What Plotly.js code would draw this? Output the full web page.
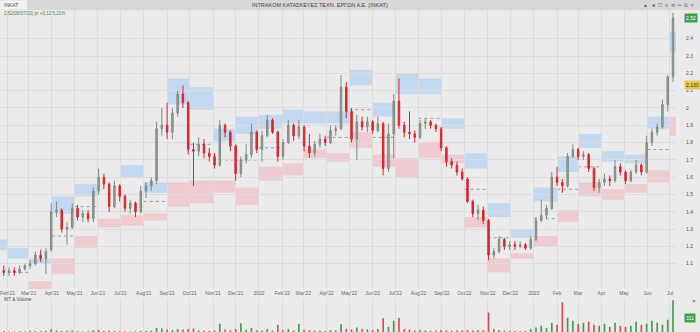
<!DOCTYPE html>
<html><head><meta charset="utf-8">
<script src="https://cdn.plot.ly/plotly-3.0.1.min.js"></script>
<style>html,body{margin:0;padding:0;background:#ebebeb;}#chart{width:700px;height:332px;}</style>
</head><body><div id="chart"></div>
<script>
// Weekly candles (mid-week dates)
const weeks = [
"2021-01-27","2021-02-03","2021-02-10","2021-02-17","2021-02-24","2021-03-03","2021-03-10","2021-03-17","2021-03-24","2021-03-31",
"2021-04-07","2021-04-14","2021-04-21","2021-04-28","2021-05-05","2021-05-12","2021-05-19","2021-05-26","2021-06-02","2021-06-09",
"2021-06-16","2021-06-23","2021-06-30","2021-07-07","2021-07-14","2021-07-21","2021-07-28","2021-08-04","2021-08-11","2021-08-18",
"2021-08-25","2021-09-01","2021-09-08","2021-09-15","2021-09-22","2021-09-29","2021-10-06","2021-10-13","2021-10-20","2021-10-27",
"2021-11-03","2021-11-10","2021-11-17","2021-11-24","2021-12-01","2021-12-08","2021-12-15","2021-12-22","2021-12-29","2022-01-05",
"2022-01-12","2022-01-19","2022-01-26","2022-02-02","2022-02-09","2022-02-16","2022-02-23","2022-03-02","2022-03-09","2022-03-16",
"2022-03-23","2022-03-30","2022-04-06","2022-04-13","2022-04-20","2022-04-27","2022-05-04","2022-05-11","2022-05-18","2022-05-25",
"2022-06-01","2022-06-08","2022-06-15","2022-06-22","2022-06-29","2022-07-06","2022-07-13","2022-07-20","2022-07-27","2022-08-03",
"2022-08-10","2022-08-17","2022-08-24","2022-08-31","2022-09-07","2022-09-14","2022-09-21","2022-09-28","2022-10-05","2022-10-12",
"2022-10-19","2022-10-26","2022-11-02","2022-11-09","2022-11-16","2022-11-23","2022-11-30","2022-12-07","2022-12-14","2022-12-21",
"2022-12-28","2023-01-04","2023-01-11","2023-01-18","2023-01-25","2023-02-01","2023-02-08","2023-02-15","2023-02-22","2023-03-01",
"2023-03-08","2023-03-15","2023-03-22","2023-03-29","2023-04-05","2023-04-12","2023-04-19","2023-04-26","2023-05-03","2023-05-10",
"2023-05-17","2023-05-24","2023-05-31","2023-06-07","2023-06-14","2023-06-21","2023-06-28","2023-07-05"];
const open = [1.06,1.05,1.06,1.05,1.07,1.09,1.10,1.15,1.13,1.18, 1.40,1.41,1.30,1.31,1.42,1.37,1.39,1.36,1.52,1.60,
1.56,1.43,1.55,1.49,1.42,1.45,1.40,1.52,1.55,1.58, 1.88,1.90,1.86,1.97,2.08,2.03,1.76,1.75,1.79,1.74,
1.72,1.67,1.90,1.86,1.78,1.62,1.70,1.73,1.86,1.76, 1.84,1.93,1.86,1.72,1.80,1.90,1.84,1.89,1.78,1.74,
1.79,1.82,1.80,1.87,1.88,2.12,1.98,1.82,1.92,1.89, 1.92,1.87,1.91,1.65,1.85,2.04,1.90,1.86,1.85,1.83,
1.91,1.92,1.90,1.88,1.77,1.69,1.67,1.63,1.59,1.46, 1.39,1.41,1.35,1.15,1.17,1.24,1.20,1.21,1.20,1.21,
1.19,1.24,1.35,1.38,1.42,1.60,1.57,1.55,1.72,1.76, 1.72,1.73,1.65,1.54,1.57,1.59,1.58,1.66,1.63,1.58,
1.63,1.67,1.63,1.80,1.86,1.89,2.02,2.18];
const high = [1.09,1.08,1.08,1.09,1.10,1.12,1.17,1.18,1.19,1.45, 1.46,1.42,1.34,1.45,1.44,1.41,1.41,1.54,1.65,1.62,
1.57,1.58,1.56,1.50,1.47,1.46,1.55,1.57,1.60,1.92, 2.00,2.03,2.00,2.10,2.13,2.04,1.80,1.83,1.82,1.77,
1.74,1.93,1.91,1.87,1.79,1.72,1.79,1.91,1.87,1.87, 1.96,1.94,1.87,1.82,1.93,1.91,1.93,1.90,1.85,1.81,
1.85,1.84,1.90,1.90,2.19,2.15,2.00,1.96,1.95,1.95, 1.93,1.95,1.92,1.91,2.08,2.17,1.92,1.98,1.87,1.93,
1.94,1.93,1.91,1.89,1.78,1.71,1.69,1.65,1.60,1.47, 1.44,1.43,1.36,1.19,1.26,1.25,1.23,1.23,1.23,1.22,
1.26,1.37,1.47,1.44,1.63,1.66,1.59,1.74,1.79,1.77, 1.75,1.74,1.66,1.59,1.62,1.61,1.70,1.68,1.64,1.64,
1.70,1.68,1.84,1.88,1.91,2.05,2.19,2.55];
const low = [1.03,1.03,1.03,1.04,1.06,1.07,1.09,1.11,1.04,1.17, 1.37,1.28,1.21,1.30,1.35,1.34,1.34,1.34,1.50,1.53,
1.40,1.42,1.46,1.40,1.39,1.37,1.39,1.48,1.52,1.56, 1.84,1.82,1.82,1.95,2.00,1.73,1.55,1.72,1.71,1.69,
1.65,1.66,1.83,1.75,1.58,1.60,1.68,1.71,1.74,1.69, 1.83,1.85,1.69,1.70,1.79,1.81,1.82,1.75,1.71,1.72,
1.77,1.78,1.79,1.84,1.87,1.94,1.80,1.70,1.87,1.86, 1.85,1.86,1.61,1.63,1.71,1.88,1.83,1.82,1.80,1.82,
1.88,1.88,1.86,1.75,1.66,1.65,1.61,1.58,1.45,1.37, 1.35,1.33,1.12,1.13,1.16,1.18,1.18,1.18,1.19,1.18,
1.18,1.23,1.34,1.36,1.41,1.55,1.51,1.54,1.71,1.70, 1.70,1.63,1.52,1.51,1.55,1.55,1.57,1.61,1.56,1.57,
1.62,1.61,1.62,1.78,1.84,1.88,1.98,2.15];
const close = [1.05,1.06,1.05,1.07,1.09,1.10,1.15,1.13,1.17,1.40, 1.41,1.30,1.31,1.42,1.37,1.39,1.36,1.52,1.60,1.56,
1.43,1.55,1.49,1.42,1.45,1.40,1.52,1.55,1.58,1.88, 1.90,1.86,1.97,2.08,2.03,1.76,1.75,1.79,1.74,1.72,
1.67,1.90,1.86,1.78,1.62,1.70,1.73,1.86,1.76,1.84, 1.93,1.86,1.72,1.80,1.90,1.84,1.89,1.78,1.74,1.79,
1.82,1.80,1.87,1.88,2.12,1.98,1.82,1.92,1.89,1.92, 1.87,1.91,1.65,1.85,2.04,1.90,1.86,1.85,1.83,1.91,
1.92,1.90,1.88,1.77,1.69,1.67,1.63,1.59,1.46,1.39, 1.41,1.35,1.15,1.17,1.24,1.20,1.21,1.20,1.21,1.19,
1.24,1.35,1.38,1.42,1.60,1.57,1.55,1.72,1.76,1.72, 1.73,1.65,1.54,1.57,1.59,1.58,1.66,1.63,1.58,1.63,
1.67,1.63,1.80,1.86,1.89,2.02,2.18,2.52];
const volume = [8,6,5,7,6,9,10,8,12,30, 15,10,12,14,8,6,7,18,20,10,
12,10,8,7,6,8,10,9,12,40, 35,25,20,30,25,30,35,15,12,10,
14,80,25,15,30,85,20,40,18,15, 30,14,70,20,30,15,80,20,18,12,
15,10,20,15,75,30,25,45,30,25, 20,30,135,50,110,140,30,25,15,20,
15,12,15,20,15,12,14,15,20,15, 20,18,190,30,20,12,10,10,8,10,
30,45,60,40,90,70,290,140,110,80, 90,100,70,60,80,50,90,60,50,60,
100,70,80,110,90,70,120,310];

// Monthly zones
const months = ["2021-01-01","2021-02-01","2021-03-01","2021-04-01","2021-05-01","2021-06-01","2021-07-01","2021-08-01","2021-09-01","2021-10-01","2021-11-01","2021-12-01",
"2022-01-01","2022-02-01","2022-03-01","2022-04-01","2022-05-01","2022-06-01","2022-07-01","2022-08-01","2022-09-01","2022-10-01","2022-11-01","2022-12-01",
"2023-01-01","2023-02-01","2023-03-01","2023-04-01","2023-05-01","2023-06-01","2023-07-01","2023-08-01"];
const blueLo = [1.18,1.13,1.10,1.39,1.49,null,1.60,1.51,2.02,1.99,1.81,1.85, 1.88,1.91,1.91,1.91,2.13,1.95,2.08,2.08,1.88,1.65,1.37,1.25, 1.46,1.63,1.77,1.69,1.68,1.88,2.32];
const blueHi = [1.24,1.19,1.13,1.49,1.56,null,1.67,1.57,2.17,2.12,1.88,1.95, 1.96,1.99,1.98,1.98,2.22,2.03,2.20,2.17,1.94,1.74,1.45,1.30, 1.54,1.72,1.85,1.75,1.73,1.95,2.44];
const pinkLo = [null,null,0.95,1.04,1.19,1.31,1.32,1.35,1.43,1.45,1.51,1.44, 1.58,1.61,1.71,1.69,1.77,1.66,1.60,1.71,1.68,1.31,1.05,1.13, 1.20,1.34,1.49,1.47,1.51,1.57,1.84];
const pinkHi = [null,null,1.00,1.13,1.26,1.36,1.38,1.39,1.57,1.58,1.58,1.54, 1.66,1.68,1.76,1.74,1.86,1.73,1.71,1.80,1.73,1.37,1.13,1.16, 1.26,1.41,1.57,1.53,1.56,1.64,1.95];
const pivot = [null,1.05,null,1.26,1.43,null,1.50,1.46,1.80,1.79,1.70,1.70, 1.77,1.80,null,1.83,1.99,1.83,null,1.94,1.80,1.53,1.25,null, 1.36,1.53,1.66,null,null,1.76,null];

const tickDates = ["2021-02-01","2021-03-01","2021-04-01","2021-05-01","2021-06-01","2021-07-01","2021-08-01","2021-09-01","2021-10-01","2021-11-01","2021-12-01",
"2022-01-01","2022-02-01","2022-03-01","2022-04-01","2022-05-01","2022-06-01","2022-07-01","2022-08-01","2022-09-01","2022-10-01","2022-11-01","2022-12-01",
"2023-01-01","2023-02-01","2023-03-01","2023-04-01","2023-05-01","2023-06-01","2023-07-01"];
const tickLabels = ["Feb'21","Mar'21","Apr'21","May'21","Jun'21","Jul'21","Aug'21","Sep'21","Oct'21","Nov'21","Dec'21",
"2022","Feb'22","Mar'22","Apr'22","May'22","Jun'22","Jul'22","Aug'22","Sep'22","Oct'22","Nov'22","Dec'22",
"2023","Feb","Mar","Apr","May","Jun","Jul"];
const priceTicks = [1.1,1.2,1.3,1.4,1.5,1.6,1.7,1.8,1.9,2,2.1,2.2,2.3,2.4];

const DOWN = '#d8262e';
const candles = {
  type:'candlestick', x:weeks, open:open, high:high, low:low, close:close,
  xaxis:'x', yaxis:'y', whiskerwidth:0,
  increasing:{line:{color:'#7f8a82', width:1}, fillcolor:'#9aa39c'},
  decreasing:{line:{color:DOWN, width:1}, fillcolor:DOWN},
  hoverinfo:'skip', showlegend:false
};
const volColors = close.map((c,i)=> c>=open[i] ? '#3f9c4c' : '#dd4a52');
const vol = {
  type:'bar', x:weeks, y:volume, xaxis:'x2', yaxis:'y2',
  marker:{color:volColors, line:{width:0}}, width:2.2*86400000, hoverinfo:'skip', showlegend:false
};

const shapes = [];
for (let i=0;i<blueLo.length;i++){
  const x0 = months[i], x1 = months[i+1];
  if (blueLo[i]!==null) shapes.push({type:'rect', xref:'x', yref:'y', x0:x0, x1:x1, y0:blueLo[i], y1:blueHi[i], fillcolor:'rgba(160,200,245,0.55)', line:{width:0}, layer:'below'});
  if (pinkLo[i]!==null) shapes.push({type:'rect', xref:'x', yref:'y', x0:x0, x1:x1, y0:pinkLo[i], y1:pinkHi[i], fillcolor:'rgba(245,165,172,0.45)', line:{width:0}, layer:'below'});
  if (pivot[i]!==null) shapes.push({type:'line', xref:'x', yref:'y', x0:x0, x1:x1, y0:pivot[i], y1:pivot[i], line:{color:'#9a9a9a', width:1, dash:'dot'}, layer:'below'});
}
// header bar
shapes.push({type:'rect', xref:'paper', yref:'paper', x0:-0.01, x1:1.05, y0:1, y1:1.035, fillcolor:'#d8d8d8', line:{width:0}, layer:'above'});
shapes.push({type:'rect', xref:'paper', yref:'paper', x0:0, x1:0.04, y0:1.002, y1:1.03, fillcolor:'#f2f2f2', line:{width:0}, layer:'above'});

const annotations = [
  {text:'INTRAKOM ΚΑΤΑΣΚΕΥΕΣ ΤΕΧΝ. ΕΡΓΩΝ Α.Ε. (ΙΝΚΑΤ)', xref:'paper', yref:'paper', x:0.473, y:1.0155, xanchor:'center', yanchor:'middle', showarrow:false, font:{size:5.5, color:'#444', family:'Arial, Liberation Sans, sans-serif'}},
  {text:'INKAT', xref:'paper', yref:'paper', x:0.003, y:1.0155, xanchor:'left', yanchor:'middle', showarrow:false, font:{size:5, color:'#555'}},
  {text:'▲  ◄  ☐  ≡  ⊜  ═  ⧉  ×', xref:'paper', yref:'paper', x:1.03, y:1.0155, xanchor:'right', yanchor:'middle', showarrow:false, font:{size:5, color:'#666'}},
  {text:'2,52(05/07/23) pr +0,12 5,21%', xref:'paper', yref:'paper', x:0.003, y:0.988, xanchor:'left', yanchor:'middle', showarrow:false, font:{size:4.5, color:'#3a8a3a'}},
  {text:'IKT & Volume', xref:'paper', yref:'paper', x:0.003, y:0.101, xanchor:'left', yanchor:'middle', showarrow:false, font:{size:4.5, color:'#444'}},
  {text:'2,52', xref:'paper', yref:'y', x:1.012, y:2.52, xanchor:'left', yanchor:'middle', showarrow:false, bgcolor:'#3aa34a', borderpad:1, font:{size:5, color:'#fff'}},
  {text:'2,130', xref:'paper', yref:'y', x:1.012, y:2.133, xanchor:'left', yanchor:'middle', showarrow:false, bgcolor:'#e6c84e', borderpad:1, font:{size:5, color:'#333'}},
  {text:'311', xref:'paper', yref:'paper', x:1.012, y:0.044, xanchor:'left', yanchor:'middle', showarrow:false, bgcolor:'#3aa34a', borderpad:1, font:{size:5, color:'#fff'}},
  {text:'×', xref:'paper', yref:'paper', x:1.02, y:0.095, xanchor:'left', yanchor:'middle', showarrow:false, font:{size:6, color:'#555'}}
];

const grid = '#dcdcdc';
const layout = {
  width:700, height:332, margin:{l:0, r:24, t:10, b:0},
  paper_bgcolor:'#ebebeb', plot_bgcolor:'#ebebeb',
  font:{family:'Arial, Liberation Sans, sans-serif', size:6, color:'#555'},
  showlegend:false, dragmode:false, boxgap:0.6,
  xaxis:{type:'date', range:['2021-01-22','2023-07-09'], domain:[0,1], anchor:'y',
    tickvals:tickDates, ticktext:tickLabels, tickangle:0, showgrid:true, gridcolor:grid, gridwidth:1,
    zeroline:false, showline:false, ticks:'', ticklabeloverflow:'allow', tickfont:{size:5, color:'#666'}, rangeslider:{visible:false}},
  yaxis:{domain:[0.1335,1], range:[0.954,2.566], side:'right', tickvals:priceTicks, showgrid:true, gridcolor:grid,
    zeroline:false, showline:false, ticks:'outside', ticklen:8, tickcolor:'rgba(0,0,0,0)', tickfont:{size:5, color:'#555'}},
  xaxis2:{type:'date', matches:'x', anchor:'y2', showticklabels:false, showgrid:true, gridcolor:grid, zeroline:false, ticks:'', tickvals:tickDates},
  yaxis2:{domain:[0,0.105], range:[0,330], showticklabels:false, showgrid:false, zeroline:false, side:'right'},
  shapes:shapes, annotations:annotations
};
Plotly.newPlot('chart', [candles, vol], layout, {displayModeBar:false, staticPlot:true});
</script></body></html>
